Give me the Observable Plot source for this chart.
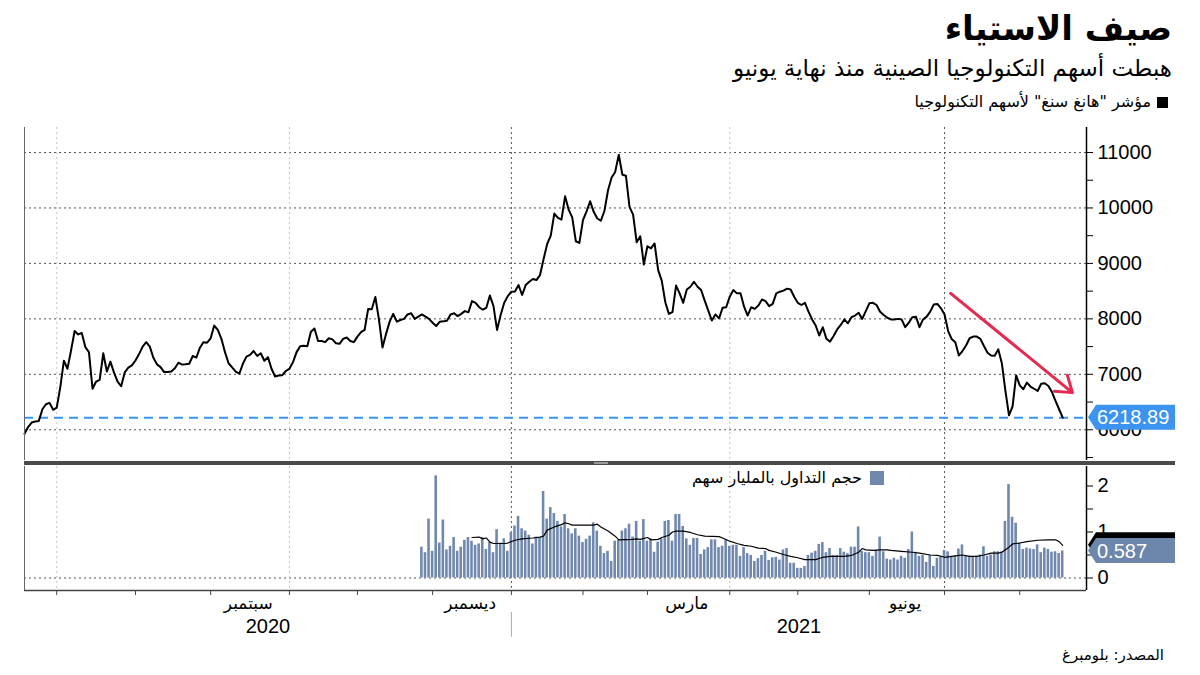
<!DOCTYPE html>
<html><head><meta charset="utf-8">
<script src="https://cdn.jsdelivr.net/npm/d3@7"></script>
<script src="https://cdn.jsdelivr.net/npm/@observablehq/plot@0.6"></script>
<style>
body{margin:0;background:#fff;}
#wrap{position:relative;width:1200px;height:675px;overflow:hidden;background:#fff;font-family:"DejaVu Sans",sans-serif;}
.ar{position:absolute;direction:rtl;white-space:nowrap;color:#000;font-family:"DejaVu Sans",sans-serif;}
.abs{position:absolute;}
</style></head><body><div id="wrap">
<div class="ar" style="right:28px;top:8px;font-size:34px;font-weight:bold;">صيف الاستياء</div>
<div class="ar" style="right:28px;top:55px;font-size:23px;">هبطت أسهم التكنولوجيا الصينية منذ نهاية يونيو</div>
<div class="ar" style="right:32px;top:92px;font-size:16px;"><span style="display:inline-block;width:11px;height:11px;background:#000;margin-left:6px;vertical-align:-1px;"></span>مؤشر "هانغ سنغ" لأسهم التكنولوجيا</div>
<div class="ar" style="right:36px;top:646px;font-size:15px;">المصدر: بلومبرغ</div>
<div id="p1" class="abs" style="left:0;top:120px;"></div>
<div id="p2" class="abs" style="left:0;top:460px;"></div>
<div class="abs" style="left:24px;top:461px;width:1151px;height:4px;background:#4a4a4a;"></div>
<div class="abs" style="left:594px;top:462px;width:14px;height:2px;background:#9a9a9a;"></div>
<div class="ar" style="right:316px;top:468px;font-size:16px;"><span style="display:inline-block;width:14px;height:14px;background:#7088ad;margin-left:8px;vertical-align:-2px;"></span>حجم التداول بالمليار سهم</div>
</div>
<script>
// ---- data ----
const holidays = ["2020-06-25","2020-07-01","2020-10-01","2020-10-02","2020-10-26","2020-12-25",
  "2021-01-01","2021-02-12","2021-02-15","2021-04-02","2021-04-05","2021-04-06","2021-05-19","2021-06-14","2021-07-01"];
const firstDay = "2020-06-17", lastDay = "2021-08-18";

const price = [
5930,6050,6130,6150,6160,6370,6460,6485,6360,6400,
6770,7245,7100,7430,7780,7720,7745,7490,7400,6740,
6870,6900,7380,7050,7230,7030,6870,6785,7035,7120,
7160,7250,7365,7500,7580,7500,7300,7180,7130,7040,
7040,7050,7110,7210,7175,7180,7190,7330,7300,7480,
7580,7570,7650,7880,7800,7640,7400,7200,7125,7050,
7010,7190,7320,7350,7420,7330,7380,7245,7310,7100,
6960,6980,6985,7060,7100,7220,7400,7505,7515,7505,
7766,7826,7600,7600,7580,7650,7630,7560,7550,7640,
7665,7600,7580,7680,7760,7800,8180,8175,8395,7990,
7485,7730,7950,8090,7950,7980,8000,8080,8100,8000,
8040,8080,8040,8000,7930,7870,7950,7955,7965,8080,
8100,8050,8090,8140,8120,8320,8290,8210,8165,8200,
8420,8230,7800,8070,8290,8410,8490,8495,8610,8430,
8610,8670,8720,8700,8790,9080,9350,9500,9900,9820,
9790,10210,9970,9830,9400,9370,9780,9940,10120,9930,
9810,9770,9950,10320,10550,10650,10960,10600,10580,10020,
9880,9380,9490,8980,9310,9270,9360,8880,8690,8300,
8090,8120,8600,8460,8290,8530,8580,8670,8580,8520,
8330,8150,7970,8080,8010,8200,8210,8400,8520,8460,
8460,8220,8060,8210,8180,8240,8350,8320,8230,8270,
8460,8490,8510,8545,8530,8400,8290,8250,8290,8130,
7990,7880,7700,7850,7640,7590,7690,7810,7890,7990,
7920,8030,8060,8110,8000,8140,8280,8290,8250,8130,
8070,8020,7990,7990,8000,7990,7850,7930,8030,8040,
7850,7990,8040,8130,8260,8270,8190,8080,7780,7635,
7580,7340,7420,7520,7650,7680,7680,7640,7510,7390,
7340,7335,7450,7200,6700,6260,6420,6980,6800,6730,
6850,6780,6740,6700,6830,6840,6790,6680,6520,6370,
6218.89];

// daily volume (billion shares), aligned to the last trading days
const volume = [
0.67,0.55,1.28,0.58,2.22,0.76,1.26,0.61,0.69,0.88,
0.58,0.67,0.82,0.88,0.80,0.71,0.74,0.88,0.62,0.77,
0.55,1.05,0.76,0.85,0.58,0.99,1.13,1.34,1.07,1.02,
0.93,0.74,0.89,0.88,1.88,1.28,1.53,1.40,1.23,1.11,
1.38,1.07,0.96,1.07,0.91,0.77,0.84,0.91,1.20,1.02,
0.69,0.53,0.58,0.36,0.80,0.82,1.02,1.07,1.17,0.89,
1.23,0.80,1.27,0.80,0.85,0.56,0.78,0.85,1.23,1.25,
0.80,1.38,1.38,1.12,0.85,0.71,0.86,0.86,0.51,0.61,
0.66,0.83,0.83,0.66,0.69,0.83,0.69,0.71,0.71,0.47,
0.66,0.53,0.49,0.36,0.42,0.49,0.58,0.38,0.44,0.45,
0.39,0.61,0.64,0.32,0.32,0.21,0.21,0.25,0.49,0.54,
0.58,0.73,0.77,0.55,0.64,0.49,0.49,0.64,0.56,0.53,
0.67,0.67,1.11,0.58,0.55,0.55,0.47,0.60,
0.89,0.57,0.41,0.39,0.43,0.39,0.47,0.43,0.62,1.00,
0.56,0.47,0.49,0.34,0.49,0.25,0.43,0.45,0.60,0.57,
0.47,0.47,0.63,0.72,0.49,0.47,0.47,0.47,0.50,0.68,
0.47,0.50,0.57,0.57,0.57,1.23,2.03,1.32,1.19,0.76,
0.62,0.65,0.63,0.62,0.72,0.55,0.65,0.62,0.56,0.57,
0.53,0.587];

// volume moving average: trading-day number and value
const maDay = [125,127,128,129,130,131,134,135,137,139,142,144,145,146,148,150,151,152,153,159,160,161,163,165,166,170,171,172,174,175,177,178,180,181,182,184,186,188,190,194,195,197,199,201,203,205,207,208,210,212,214,216,218,221,223,225,227,229,231,233,234,235,237,239,241,242,245,248,250,253,255,257,259,261,262,264,266,268,270,272,273,275,276,278,280,283,286,288,289,290];
const maVal = [0.88,0.89,0.85,0.87,0.78,0.75,0.75,0.76,0.82,0.85,0.87,0.89,0.91,1.04,1.11,1.16,1.20,1.18,1.15,1.15,1.17,1.11,1.02,0.91,0.83,0.84,0.85,0.84,0.88,0.83,0.84,0.88,0.93,1.00,1.02,1.02,0.99,0.94,0.91,0.90,0.87,0.80,0.75,0.71,0.69,0.65,0.64,0.60,0.56,0.51,0.47,0.44,0.40,0.40,0.45,0.47,0.47,0.47,0.49,0.56,0.64,0.61,0.60,0.61,0.61,0.60,0.58,0.56,0.54,0.50,0.49,0.45,0.47,0.49,0.50,0.47,0.47,0.50,0.54,0.54,0.56,0.67,0.74,0.76,0.79,0.82,0.83,0.83,0.79,0.71];

const priceTicks = [5500,6000,6500,7000,7500,8000,8500,9000,9500,10000,10500,11000];
const volTicks = [0,0.5,1,1.5,2];
const labelMonths = {8:"سبتمبر", 11:"ديسمبر", 2:"مارس", 5:"يونيو"};
const gridMonths = [{m:"2020-07",dark:false},{m:"2020-10",dark:false},{m:"2021-01",dark:true},{m:"2021-04",dark:false},{m:"2021-07",dark:true}];
const trendArrow = [{d1:258.7, v1:8460, d2:292.7, v2:6670}];

// ---- derived ----
const fmt = d3.timeFormat("%Y-%m-%d"), fmtM = d3.timeFormat("%Y-%m");
const parse = d3.timeParse("%Y-%m-%d");
const dates = d3.timeDay.range(parse(firstDay), d3.timeDay.offset(parse(lastDay),1))
  .filter(d => d.getDay()!==0 && d.getDay()!==6 && !holidays.includes(fmt(d)));
const n = price.length;
const xMax = 296.65;
const priceData = price.map((v,i)=>({i,v}));
const volStart = n - volume.length;
const volData = volume.map((v,k)=>({i:volStart+k, v}));
const maData = maDay.map((d,k)=>({i:d, v:maVal[k]}));
const monthStarts = [];
for (let i=1;i<dates.length;i++) if (dates[i].getMonth()!==dates[i-1].getMonth()) monthStarts.push(i);
const monthFirst = new Map(); dates.forEach((d,i)=>{const k=fmtM(d); if(!monthFirst.has(k)) monthFirst.set(k,i);});
const lightGrid = gridMonths.filter(g=>!g.dark).map(g=>monthFirst.get(g.m));
const darkGrid = gridMonths.filter(g=>g.dark).map(g=>monthFirst.get(g.m));
const monthLabels = [];
d3.group(dates.map((d,i)=>({d,i})), o=>fmtM(o.d)).forEach((arr)=>{
  const m = arr[0].d.getMonth();
  if (labelMonths[m] !== undefined && arr.length > 10) monthLabels.push({i:(arr[0].i+arr[arr.length-1].i)/2, t:labelMonths[m]});
});
const yearStart = monthFirst.get("2021-01");
const yearLabels = [{i:yearStart/2, t:"2020"},{i:(yearStart+xMax)/2, t:"2021"}];
const last = price[n-1];

const numFont = "Liberation Sans, Arial, sans-serif";
const grid = (arr, color) => Plot.ruleX(arr, {x:d=>d, stroke:color, strokeDasharray:"2,3", strokeWidth:1});

// ---- price panel ----
const p1 = Plot.plot({
  width:1200, height:345, marginLeft:24, marginRight:114, marginTop:7, marginBottom:5,
  style:{fontFamily:numFont, fontSize:"20px", background:"transparent", color:"#000"},
  x:{domain:[0,xMax], axis:null},
  y:{domain:[5446,11451], axis:null},
  marks:[
    Plot.ruleY([6000,7000,8000,9000,10000,11000], {stroke:"#555", strokeDasharray:"2,3", strokeWidth:1}),
    grid(lightGrid, "#c4c4c4"),
    grid(darkGrid, "#555"),
    Plot.ruleY([last], {stroke:"#3d94f0", strokeWidth:2, strokeDasharray:"9,6"}),
    Plot.line(priceData, {x:"i", y:"v", stroke:"#000", strokeWidth:2, strokeLinejoin:"round"}),
    Plot.arrow(trendArrow, {x1:"d1", y1:"v1", x2:"d2", y2:"v2", stroke:"#e8294f", strokeWidth:3, headLength:9, headAngle:70}),
    Plot.ruleX([0], {stroke:"#666", strokeWidth:1}),
    Plot.ruleX([xMax], {stroke:"#000", strokeWidth:1.5}),
    Plot.axisY({anchor:"right", label:null, ticks:priceTicks, tickSize:6, tickPadding:5, tickFormat:d=> d%1000===0 ? String(d) : "", fontSize:20, fontFamily:numFont})
  ]
});
document.getElementById("p1").appendChild(p1);

// ---- volume panel ----
const p2 = Plot.plot({
  width:1200, height:215, marginLeft:24, marginRight:114, marginTop:6, marginBottom:85,
  style:{fontFamily:numFont, fontSize:"20px", background:"transparent", color:"#000"},
  x:{domain:[0,xMax], axis:null},
  y:{domain:[-0.272,2.424], axis:null},
  marks:[
    Plot.ruleY([0], {stroke:"#555", strokeDasharray:"2,3", strokeWidth:1}),
    grid(lightGrid, "#c4c4c4"),
    grid(darkGrid, "#555"),
    Plot.rectY(volData, {x1:d=>d.i-0.36, x2:d=>d.i+0.36, y1:0, y2:"v", fill:"#7088ad"}),
    Plot.line(maData, {x:"i", y:"v", stroke:"#000", strokeWidth:1.2}),
    Plot.ruleX([0], {stroke:"#666", strokeWidth:1}),
    Plot.ruleX([xMax], {stroke:"#000", strokeWidth:1.5}),
    Plot.ruleY([-0.272], {stroke:"#444", strokeWidth:1.5}),
    Plot.axisY({anchor:"right", label:null, ticks:volTicks, tickSize:6, tickPadding:5, tickFormat:d=> Number.isInteger(d) ? String(d) : "", fontSize:20, fontFamily:numFont}),
    Plot.axisX({anchor:"bottom", label:null, ticks:monthStarts, tickSize:5, tickFormat:()=>"", stroke:"#444"}),
    Plot.text(monthLabels, {x:"i", text:"t", frameAnchor:"bottom", dy:18, fontSize:17, fontFamily:"DejaVu Sans, sans-serif", fill:"#000"}),
    Plot.text(yearLabels, {x:"i", text:"t", frameAnchor:"bottom", dy:42, fontSize:20, fontFamily:numFont, fill:"#000"}),
    Plot.ruleX([yearStart], {y1:-0.75, y2:-1.29, stroke:"#aaa", strokeWidth:1})
  ]
});
document.getElementById("p2").appendChild(p2);

// ---- value tags on the right axis ----
function tag(plot, value, label, color, textColor) {
  const y = plot.scale("y").apply(value);
  const x0 = plot.scale("x").apply(xMax) + 2;
  const svg = d3.select(plot);
  const h = 12.5;
  svg.append("path")
    .attr("d", `M${x0},${y} L${x0+8},${y-h} L1175,${y-h} L1175,${y+h} L${x0+8},${y+h} Z`)
    .attr("fill", color);
  if (label) svg.append("text").attr("x", x0+9).attr("y", y).attr("dy","0.36em")
    .attr("text-anchor","start")
    .attr("fill", textColor).attr("font-size", 20).attr("font-family", numFont).text(label);
}
tag(p1, last, String(last), "#3d94f0", "#fff");
tag(p2, maVal[maVal.length-1], "", "#000", "#fff");
tag(p2, volume[volume.length-1], String(volume[volume.length-1]), "#6d86ab", "#fff");
</script>
</body></html>
